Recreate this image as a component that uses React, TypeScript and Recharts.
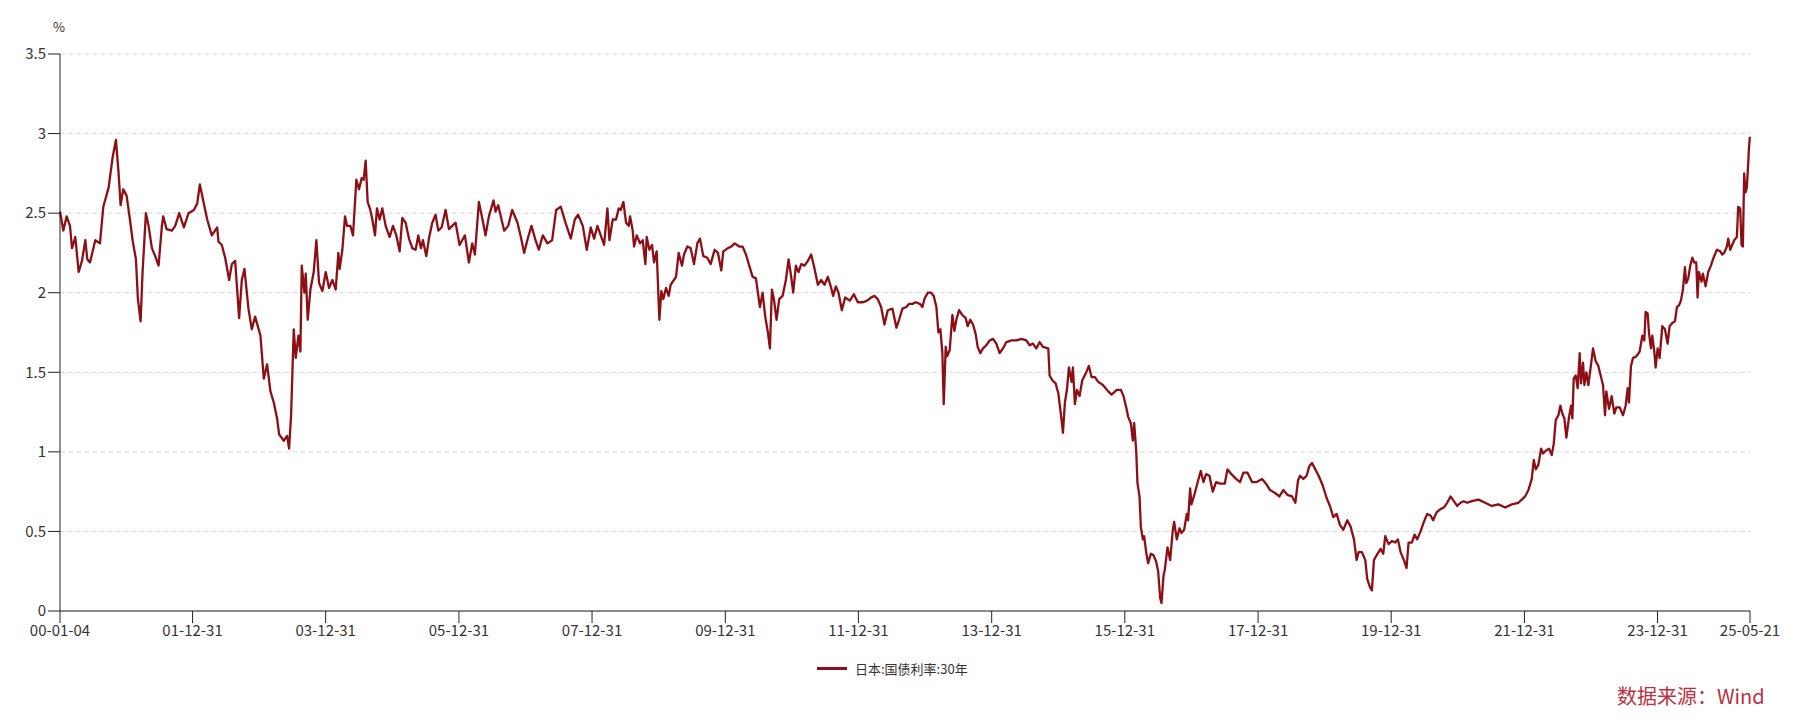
import React from 'react';
import { LineChart, Line, XAxis, YAxis, CartesianGrid } from 'recharts';

// 日本 30年期国债收益率 (%), 2000-01-04 ~ 2025-05-21
// 每个点为 [距 2000-01-04 的年数, 收益率]

const yields2000_2004: [number, number][] = [
  [0, 2.51], [0.05, 2.39], [0.1, 2.48], [0.15, 2.42], [0.18, 2.28], [0.23, 2.35], [0.28, 2.13], [0.33, 2.2],
  [0.38, 2.33], [0.41, 2.21], [0.45, 2.19], [0.53, 2.33], [0.6, 2.31], [0.65, 2.54], [0.73, 2.66], [0.79, 2.85],
  [0.84, 2.96], [0.88, 2.75], [0.91, 2.55], [0.95, 2.65], [1.0, 2.61], [1.05, 2.46], [1.09, 2.33], [1.14, 2.21],
  [1.17, 1.96], [1.21, 1.82], [1.24, 2.13], [1.29, 2.5], [1.33, 2.42], [1.38, 2.28], [1.43, 2.23], [1.48, 2.17],
  [1.53, 2.42], [1.55, 2.48], [1.6, 2.4], [1.68, 2.39], [1.73, 2.42], [1.79, 2.5], [1.86, 2.41], [1.93, 2.5],
  [2.01, 2.52], [2.06, 2.56], [2.1, 2.68], [2.16, 2.56], [2.21, 2.46], [2.28, 2.36], [2.36, 2.41], [2.38, 2.32],
  [2.43, 2.3], [2.48, 2.22], [2.54, 2.08], [2.58, 2.18], [2.63, 2.2], [2.69, 1.84], [2.73, 2.08], [2.77, 2.15],
  [2.83, 1.9], [2.88, 1.77], [2.93, 1.85], [3.01, 1.73], [3.06, 1.46], [3.11, 1.55], [3.16, 1.38], [3.21, 1.31],
  [3.26, 1.21], [3.29, 1.11], [3.36, 1.07], [3.41, 1.1], [3.44, 1.02], [3.47, 1.23], [3.51, 1.77], [3.54, 1.59],
  [3.58, 1.73], [3.61, 1.63], [3.63, 2.17], [3.67, 2.0], [3.69, 2.12], [3.72, 1.83], [3.76, 2.02], [3.81, 2.13],
  [3.85, 2.33], [3.89, 2.06], [3.94, 2.01], [3.99, 2.13], [4.04, 2.03], [4.09, 2.08],
];

const yields2004_2008: [number, number][] = [
  [4.14, 2.02], [4.18, 2.25], [4.2, 2.15], [4.24, 2.27], [4.28, 2.48], [4.31, 2.42], [4.36, 2.42], [4.4, 2.36],
  [4.45, 2.71], [4.49, 2.65], [4.53, 2.72], [4.56, 2.71], [4.59, 2.83], [4.62, 2.57], [4.66, 2.52], [4.69, 2.46],
  [4.73, 2.36], [4.76, 2.53], [4.8, 2.46], [4.84, 2.53], [4.89, 2.42], [4.95, 2.35], [5.0, 2.42], [5.05, 2.36],
  [5.1, 2.26], [5.14, 2.47], [5.19, 2.44], [5.24, 2.34], [5.29, 2.28], [5.34, 2.27], [5.38, 2.36], [5.42, 2.28],
  [5.45, 2.33], [5.5, 2.23], [5.54, 2.34], [5.59, 2.44], [5.64, 2.49], [5.68, 2.39], [5.73, 2.41], [5.79, 2.52],
  [5.84, 2.4], [5.89, 2.42], [5.94, 2.44], [6.0, 2.3], [6.08, 2.36], [6.14, 2.19], [6.19, 2.31], [6.23, 2.24],
  [6.29, 2.57], [6.34, 2.47], [6.39, 2.36], [6.44, 2.48], [6.51, 2.58], [6.54, 2.51], [6.58, 2.55], [6.63, 2.46],
  [6.67, 2.39], [6.73, 2.42], [6.79, 2.52], [6.87, 2.44], [6.92, 2.35], [6.97, 2.25], [7.03, 2.35], [7.08, 2.42],
  [7.14, 2.33], [7.19, 2.27], [7.25, 2.36], [7.32, 2.31], [7.39, 2.33], [7.45, 2.52], [7.52, 2.54], [7.59, 2.44],
  [7.67, 2.34], [7.73, 2.46], [7.78, 2.49], [7.85, 2.42], [7.91, 2.27], [7.97, 2.41], [8.02, 2.34], [8.07, 2.42],
  [8.12, 2.36], [8.17, 2.3], [8.22, 2.53], [8.25, 2.33], [8.3, 2.46],
];

const yields2008_2012: [number, number][] = [
  [8.35, 2.46], [8.39, 2.53], [8.42, 2.52], [8.46, 2.57], [8.5, 2.44], [8.54, 2.42], [8.56, 2.48], [8.6, 2.39],
  [8.62, 2.29], [8.66, 2.36], [8.71, 2.31], [8.75, 2.33], [8.79, 2.18], [8.81, 2.35], [8.85, 2.27], [8.89, 2.3],
  [8.92, 2.19], [8.96, 2.26], [9.0, 1.83], [9.03, 2.01], [9.06, 1.96], [9.1, 2.03], [9.14, 1.98], [9.17, 2.05],
  [9.25, 2.1], [9.29, 2.25], [9.34, 2.17], [9.37, 2.24], [9.42, 2.29], [9.47, 2.28], [9.52, 2.18], [9.57, 2.31],
  [9.61, 2.34], [9.66, 2.23], [9.72, 2.22], [9.77, 2.18], [9.83, 2.27], [9.88, 2.25], [9.93, 2.14], [9.96, 2.26],
  [10.03, 2.28], [10.08, 2.29], [10.13, 2.31], [10.2, 2.29], [10.25, 2.29], [10.3, 2.24], [10.35, 2.17], [10.4, 2.1],
  [10.45, 2.09], [10.51, 1.91], [10.55, 2.0], [10.59, 1.85], [10.63, 1.75], [10.66, 1.65], [10.69, 2.02], [10.72, 1.96],
  [10.76, 1.83], [10.8, 1.96], [10.85, 1.98], [10.9, 2.08], [10.94, 2.21], [10.98, 2.1], [11.01, 2.0], [11.05, 2.17],
  [11.09, 2.13], [11.13, 2.18], [11.18, 2.17], [11.23, 2.2], [11.28, 2.24], [11.33, 2.15], [11.38, 2.05], [11.43, 2.08],
  [11.48, 2.05], [11.53, 2.1], [11.58, 2.03], [11.61, 1.98], [11.65, 2.04], [11.69, 2.0], [11.74, 1.89], [11.79, 1.97],
  [11.86, 1.95], [11.92, 1.99], [11.98, 1.94], [12.06, 1.94], [12.12, 1.95], [12.18, 1.97], [12.23, 1.98], [12.28, 1.96],
  [12.33, 1.91], [12.38, 1.8], [12.43, 1.89], [12.5, 1.9], [12.56, 1.78],
];

const yields2012_2016: [number, number][] = [
  [12.6, 1.83], [12.65, 1.9], [12.71, 1.91], [12.75, 1.93], [12.8, 1.93], [12.85, 1.94], [12.91, 1.93], [12.95, 1.91],
  [12.98, 1.96], [13.03, 2.0], [13.08, 2.0], [13.12, 1.98], [13.16, 1.91], [13.19, 1.75], [13.22, 1.77], [13.25, 1.62],
  [13.27, 1.3], [13.3, 1.66], [13.32, 1.6], [13.36, 1.64], [13.4, 1.86], [13.43, 1.76], [13.46, 1.83], [13.5, 1.89],
  [13.55, 1.86], [13.6, 1.84], [13.63, 1.79], [13.67, 1.83], [13.71, 1.8], [13.75, 1.74], [13.78, 1.66], [13.82, 1.62],
  [13.86, 1.65], [13.91, 1.67], [13.96, 1.7], [14.01, 1.71], [14.06, 1.68], [14.11, 1.62], [14.16, 1.65], [14.21, 1.69],
  [14.29, 1.7], [14.36, 1.7], [14.44, 1.71], [14.51, 1.7], [14.56, 1.67], [14.61, 1.68], [14.66, 1.65], [14.71, 1.69],
  [14.76, 1.66], [14.84, 1.65], [14.86, 1.48], [14.9, 1.45], [14.95, 1.43], [14.99, 1.37], [15.04, 1.2], [15.06, 1.12],
  [15.09, 1.31], [15.12, 1.39], [15.15, 1.53], [15.19, 1.44], [15.21, 1.53], [15.24, 1.3], [15.27, 1.39], [15.31, 1.35],
  [15.35, 1.45], [15.4, 1.49], [15.45, 1.54], [15.49, 1.47], [15.54, 1.47], [15.59, 1.44], [15.66, 1.42], [15.74, 1.38],
  [15.79, 1.36], [15.87, 1.39], [15.93, 1.39], [15.97, 1.35], [16.01, 1.28], [16.04, 1.22], [16.08, 1.18], [16.11, 1.07],
  [16.13, 1.18], [16.16, 1.01], [16.18, 0.8], [16.21, 0.72], [16.23, 0.53], [16.26, 0.45], [16.28, 0.47], [16.31, 0.37],
  [16.34, 0.3], [16.38, 0.36], [16.42, 0.35], [16.46, 0.31], [16.49, 0.25], [16.52, 0.08], [16.54, 0.05], [16.57, 0.22],
  [16.59, 0.26], [16.63, 0.4], [16.67, 0.32], [16.71, 0.51], [16.73, 0.56],
];

const yields2016_2022: [number, number][] = [
  [16.77, 0.45], [16.81, 0.52], [16.84, 0.49], [16.88, 0.51], [16.92, 0.61], [16.94, 0.57], [16.97, 0.77], [16.99, 0.67],
  [17.04, 0.74], [17.09, 0.82], [17.13, 0.88], [17.17, 0.81], [17.21, 0.86], [17.26, 0.85], [17.31, 0.75], [17.36, 0.81],
  [17.42, 0.8], [17.49, 0.8], [17.53, 0.89], [17.59, 0.86], [17.66, 0.83], [17.72, 0.81], [17.77, 0.87], [17.83, 0.87],
  [17.9, 0.81], [17.97, 0.81], [18.05, 0.83], [18.11, 0.8], [18.17, 0.76], [18.25, 0.74], [18.31, 0.72], [18.37, 0.76],
  [18.43, 0.73], [18.5, 0.72], [18.55, 0.68], [18.59, 0.82], [18.62, 0.85], [18.67, 0.83], [18.72, 0.85], [18.76, 0.91],
  [18.8, 0.93], [18.85, 0.89], [18.9, 0.85], [18.96, 0.79], [19.02, 0.71], [19.07, 0.66], [19.12, 0.59], [19.17, 0.61],
  [19.22, 0.54], [19.27, 0.51], [19.33, 0.57], [19.38, 0.53], [19.43, 0.45], [19.47, 0.32], [19.5, 0.37], [19.55, 0.37],
  [19.6, 0.32], [19.63, 0.2], [19.67, 0.15], [19.7, 0.13], [19.73, 0.32], [19.77, 0.35], [19.83, 0.39], [19.87, 0.36],
  [19.9, 0.47], [19.95, 0.42], [20.0, 0.44], [20.05, 0.43], [20.09, 0.45], [20.13, 0.37], [20.18, 0.32], [20.22, 0.27],
  [20.25, 0.43], [20.3, 0.43], [20.34, 0.48], [20.38, 0.45], [20.43, 0.5], [20.48, 0.56], [20.53, 0.61], [20.58, 0.6],
  [20.62, 0.57], [20.67, 0.62], [20.73, 0.64], [20.78, 0.65], [20.83, 0.68], [20.88, 0.72], [20.93, 0.69], [20.98, 0.66],
  [21.03, 0.68], [21.08, 0.69], [21.13, 0.68], [21.2, 0.69], [21.3, 0.7], [21.4, 0.68], [21.5, 0.66], [21.6, 0.67],
  [21.7, 0.65], [21.8, 0.67], [21.9, 0.68], [21.95, 0.7], [22.0, 0.72], [22.05, 0.76],
];

const yields2022_2025: [number, number][] = [
  [22.1, 0.83], [22.13, 0.95], [22.16, 0.89], [22.2, 0.92], [22.24, 1.02], [22.27, 0.99], [22.32, 1.01], [22.36, 1.02],
  [22.4, 0.98], [22.43, 1.05], [22.46, 1.2], [22.5, 1.23], [22.53, 1.29], [22.56, 1.24], [22.59, 1.21], [22.62, 1.09],
  [22.66, 1.22], [22.69, 1.29], [22.71, 1.21], [22.73, 1.46], [22.76, 1.48], [22.79, 1.4], [22.82, 1.62], [22.84, 1.43],
  [22.87, 1.56], [22.89, 1.42], [22.92, 1.5], [22.95, 1.42], [22.99, 1.55], [23.02, 1.65], [23.06, 1.57], [23.1, 1.54],
  [23.14, 1.47], [23.17, 1.42], [23.2, 1.23], [23.22, 1.38], [23.26, 1.27], [23.3, 1.35], [23.34, 1.24], [23.37, 1.28],
  [23.42, 1.28], [23.47, 1.23], [23.51, 1.29], [23.54, 1.4], [23.56, 1.31], [23.59, 1.54], [23.62, 1.59], [23.67, 1.6],
  [23.72, 1.63], [23.76, 1.73], [23.79, 1.7], [23.81, 1.88], [23.84, 1.87], [23.86, 1.75], [23.89, 1.65], [23.91, 1.73],
  [23.94, 1.63], [23.96, 1.53], [23.99, 1.65], [24.02, 1.59], [24.06, 1.79], [24.1, 1.77], [24.14, 1.68], [24.17, 1.79],
  [24.21, 1.81], [24.25, 1.82], [24.28, 1.91], [24.31, 1.92], [24.34, 1.95], [24.37, 2.02], [24.4, 2.16], [24.42, 2.06],
  [24.45, 2.09], [24.48, 2.17], [24.51, 2.22], [24.54, 2.19], [24.57, 2.19], [24.59, 1.97], [24.61, 2.13], [24.65, 2.07],
  [24.67, 2.12], [24.71, 2.04], [24.75, 2.13], [24.79, 2.17], [24.83, 2.22], [24.88, 2.27], [24.93, 2.26], [24.96, 2.24],
  [24.99, 2.25], [25.03, 2.29], [25.05, 2.34], [25.08, 2.27], [25.11, 2.3], [25.14, 2.33], [25.18, 2.35], [25.2, 2.54],
  [25.23, 2.53], [25.25, 2.3], [25.27, 2.29], [25.29, 2.75], [25.31, 2.63], [25.33, 2.66], [25.35, 2.81], [25.36, 2.9],
  [25.375, 2.98],
];

const TICK_LABELS = [
  '00-01-04', '01-12-31', '03-12-31', '05-12-31', '07-12-31', '09-12-31', '11-12-31',
  '13-12-31', '15-12-31', '17-12-31', '19-12-31', '21-12-31', '23-12-31', '25-05-21',
];
const Y_TICKS = [0, 0.5, 1, 1.5, 2, 2.5, 3, 3.5];
const SERIES_NAME = '日本:国债利率:30年';
const SOURCE_TEXT = '数据来源：Wind';

const LINE_COLOR = '#8c0f16';
const FONT = '"Noto Sans CJK SC", "Noto Sans", sans-serif';

// years elapsed since 2000-01-04 for a yy-mm-dd label
function yearsFromStart(label: string) {
  const [yy, mm, dd] = label.split('-').map(Number);
  const ms = Date.UTC(2000 + yy, mm - 1, dd) - Date.UTC(2000, 0, 4);
  return ms / (365.25 * 86400000);
}

const tickPositions = TICK_LABELS.map(yearsFromStart);

const data = [
  ...yields2000_2004,
  ...yields2004_2008,
  ...yields2008_2012,
  ...yields2012_2016,
  ...yields2016_2022,
  ...yields2022_2025,
].map(([t, v]) => ({ t, v }));

function formatDateTick(value: number) {
  let best = 0;
  tickPositions.forEach((p, i) => {
    if (Math.abs(p - value) < Math.abs(tickPositions[best] - value)) best = i;
  });
  return TICK_LABELS[best];
}

export default function App() {
  return (
    <div
      style={{
        position: 'absolute',
        left: 0,
        top: 0,
        width: 1803,
        height: 723,
        background: '#fff',
        fontFamily: FONT,
      }}
    >
      {/* unit label */}
      <div style={{ position: 'absolute', left: 53, top: 17, fontSize: 13, color: '#333' }}>%</div>

      <LineChart
        width={1803}
        height={723}
        data={data}
        margin={{ top: 54, right: 53, bottom: 82, left: 0 }}
      >
        <CartesianGrid
          vertical={false}
          stroke="#d9d9d9"
          strokeDasharray="5 3"
        />
        <XAxis
          dataKey="t"
          type="number"
          domain={[0, tickPositions[tickPositions.length - 1]]}
          ticks={tickPositions}
          interval={0}
          tickFormatter={formatDateTick}
          height={30}
          tickSize={12}
          stroke="#222"
          tick={{ fontSize: 15, fill: '#333', fontFamily: FONT }}
        />
        <YAxis
          type="number"
          domain={[0, 3.5]}
          ticks={Y_TICKS}
          interval={0}
          width={60}
          tickSize={12}
          stroke="#222"
          tick={{ fontSize: 15, fill: '#333', fontFamily: FONT }}
        />
        <Line
          type="linear"
          dataKey="v"
          name={SERIES_NAME}
          stroke={LINE_COLOR}
          strokeWidth={2.3}
          strokeLinejoin="round"
          dot={false}
          isAnimationActive={false}
        />
      </LineChart>

      {/* legend */}
      <div
        style={{
          position: 'absolute',
          left: 817,
          top: 659,
          display: 'flex',
          alignItems: 'center',
          fontSize: 13,
          color: '#333',
        }}
      >
        <span style={{ display: 'inline-block', width: 30, height: 3, background: LINE_COLOR, marginRight: 8 }} />
        <span>{SERIES_NAME}</span>
      </div>

      {/* source */}
      <div
        style={{
          position: 'absolute',
          left: 1617,
          top: 681,
          fontSize: 20,
          color: '#b8323e',
        }}
      >
        {SOURCE_TEXT}
      </div>
    </div>
  );
}
